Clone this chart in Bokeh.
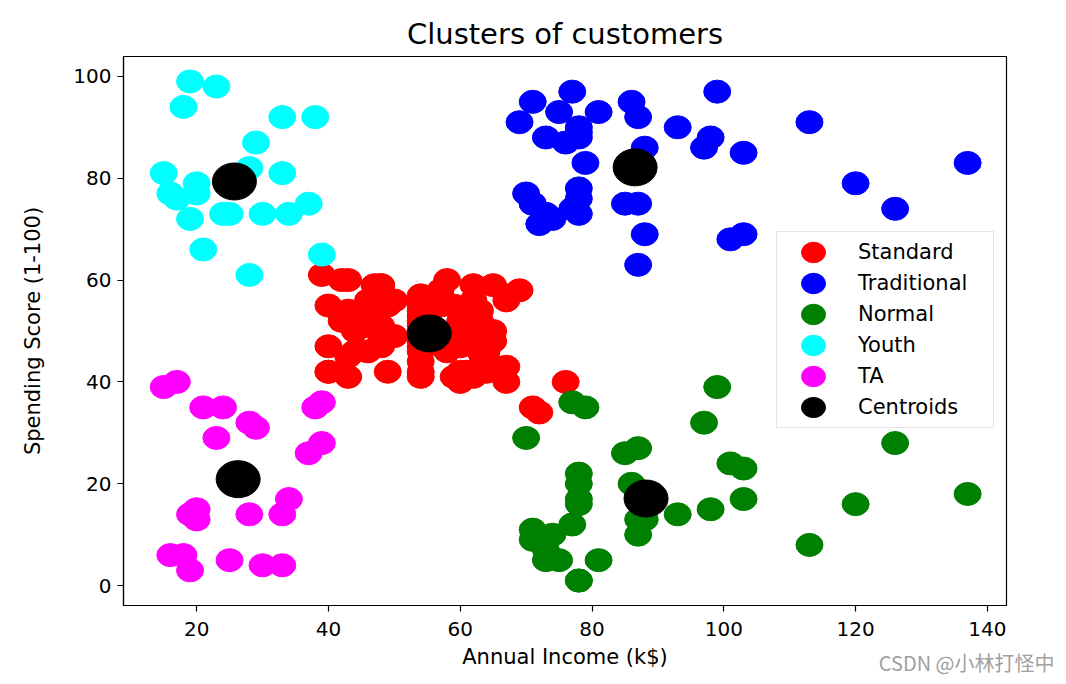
from bokeh.plotting import figure
from bokeh.models import Legend, LegendItem, Title, Range1d, FixedTicker
from bokeh.embed import file_html
from bokeh.resources import INLINE

# ---- data: Annual Income (k$) / Spending Score (1-100) per cluster ----
standard_x = [39, 40, 40, 40, 40, 42, 42, 43, 43, 43, 43, 44, 44, 46, 46, 46, 46, 47, 47,
              48, 48, 48, 48, 48, 48, 49, 49, 50, 50, 54, 54, 54, 54, 54, 54, 54, 54, 54,
              54, 54, 54, 57, 57, 58, 58, 59, 59, 60, 60, 60, 60, 60, 60, 61, 61, 62, 62,
              62, 62, 62, 62, 63, 63, 63, 63, 63, 63, 64, 64, 65, 65, 65, 65, 67, 67, 67,
              67, 69, 71, 72, 76]
standard_y = [61, 55, 47, 42, 42, 52, 60, 54, 60, 45, 41, 50, 46, 51, 46, 56, 55, 52, 59,
              51, 59, 50, 48, 59, 47, 55, 42, 49, 56, 47, 54, 53, 48, 52, 42, 51, 55, 41,
              44, 57, 46, 58, 55, 60, 46, 55, 41, 49, 40, 42, 52, 47, 50, 42, 49, 41, 48,
              59, 55, 56, 42, 50, 46, 43, 48, 52, 54, 42, 46, 48, 50, 43, 59, 43, 57, 56,
              40, 58, 35, 34, 40]

traditional_x = [69, 70, 71, 71, 71, 72, 73, 73, 74, 75, 76, 77, 77, 78, 78, 78, 78, 78, 78,
                 79, 81, 85, 86, 87, 87, 87, 88, 88, 93, 97, 98, 99, 101, 103, 103, 113,
                 120, 126, 137]
traditional_y = [91, 77, 95, 75, 75, 71, 88, 73, 72, 93, 87, 97, 74, 90, 88, 76, 89, 78, 73,
                 83, 93, 75, 95, 63, 75, 92, 86, 69, 90, 86, 88, 97, 68, 85, 69, 91,
                 79, 74, 83]

normal_x = [70, 71, 71, 73, 73, 74, 75, 77, 77, 78, 78, 78, 78, 78, 78, 79, 81, 85, 86, 87,
            87, 87, 88, 88, 93, 97, 98, 99, 101, 103, 103, 113, 120, 126, 137]
normal_y = [29, 11, 9, 5, 7, 10, 5, 12, 36, 22, 17, 20, 16, 1, 1, 35, 5, 26, 20, 27,
            13, 10, 13, 15, 14, 32, 15, 39, 24, 17, 23, 8, 16, 28, 18]

youth_x = [15, 16, 17, 18, 19, 19, 20, 20, 21, 23, 24, 25, 28, 28, 29, 30, 33, 33, 34, 37,
           38, 39]
youth_y = [81, 77, 76, 94, 72, 99, 77, 79, 66, 98, 73, 73, 82, 61, 87, 73, 92, 81, 73, 75,
           92, 65]

ta_x = [15, 16, 17, 18, 19, 19, 20, 20, 21, 23, 24, 25, 28, 28, 29, 30, 33, 33, 34, 37,
        38, 39, 39]
ta_y = [39, 6, 40, 6, 3, 14, 15, 13, 35, 29, 35, 5, 14, 32, 31, 4, 4, 14, 17, 26,
        35, 36, 28]

centroid_x = [55.30, 86.54, 88.20, 25.73, 26.30]
centroid_y = [49.52, 82.13, 17.11, 79.36, 20.91]

series = [
    ("Standard", standard_x, standard_y, "#ff0000"),
    ("Traditional", traditional_x, traditional_y, "#0000ff"),
    ("Normal", normal_x, normal_y, "#008000"),
    ("Youth", youth_x, youth_y, "#00ffff"),
    ("TA", ta_x, ta_y, "#ff00ff"),
]

FONT = "DejaVu Sans"

p = figure(width=1066, height=684, output_backend="svg", toolbar_location=None,
           x_range=Range1d(8.9, 142.9), y_range=Range1d(-3.9, 103.9),
           min_border_left=123, min_border_right=60, min_border_top=56,
           min_border_bottom=79, title="Clusters of customers")

items = []
for name, xs, ys, col in series:
    r = p.ellipse(x=xs, y=ys, width=27, height=23, width_units="screen",
                  height_units="screen", fill_color=col, line_color=col)
    items.append(LegendItem(label=name, renderers=[r]))

rc = p.ellipse(x=centroid_x, y=centroid_y, width=44, height=37, width_units="screen",
               height_units="screen", fill_color="black", line_color="black")
items.append(LegendItem(label="Centroids", renderers=[rc]))

legend = Legend(items=items, location=(653, 177), glyph_width=62, glyph_height=30,
                label_height=30, label_width=130, spacing=1, padding=5, margin=0,
                label_standoff=14, label_text_font=FONT, label_text_font_size="21px",
                label_text_color="black", border_line_color="#cccccc",
                border_line_width=1, background_fill_alpha=0.8)
p.add_layout(legend)

p.title.text_font = FONT
p.title.text_font_size = "29px"
p.title.text_font_style = "normal"
p.title.align = "center"
p.title.text_color = "black"
p.title.standoff = 12

p.xgrid.visible = False
p.ygrid.visible = False
p.outline_line_color = "black"
p.outline_line_width = 1.2

p.xaxis.ticker = FixedTicker(ticks=[20, 40, 60, 80, 100, 120, 140])
p.yaxis.ticker = FixedTicker(ticks=[0, 20, 40, 60, 80, 100])
p.xaxis.axis_label = "Annual Income (k$)"
p.yaxis.axis_label = "Spending Score (1-100)"
for ax in (p.xaxis, p.yaxis):
    ax.minor_tick_line_color = None
    ax.major_tick_out = 6
    ax.major_tick_in = 0
    ax.major_tick_line_width = 1.2
    ax.major_tick_line_color = "black"
    ax.axis_line_color = "black"
    ax.axis_line_width = 1.2
    ax.major_label_text_font = FONT
    ax.major_label_text_font_size = "20px"
    ax.major_label_text_color = "black"
    ax.axis_label_text_font = FONT
    ax.axis_label_text_font_size = "21px"
    ax.axis_label_text_font_style = "normal"
    ax.axis_label_text_color = "black"
p.yaxis.axis_label_standoff = 25
p.xaxis.axis_label_standoff = 6
p.xaxis.major_label_standoff = 10
p.yaxis.major_label_standoff = 6

# watermark, in the bottom border next to the x-axis label
wm = Title(text="CSDN @小林打怪中", align="right", vertical_align="top",
           offset=-48, standoff=-48, text_font="Noto Sans CJK SC",
           text_font_size="20px", text_font_style="normal", text_color="#a0a0a0")
p.add_layout(wm, "below")

open("out.html", "w").write(file_html(p, INLINE))
